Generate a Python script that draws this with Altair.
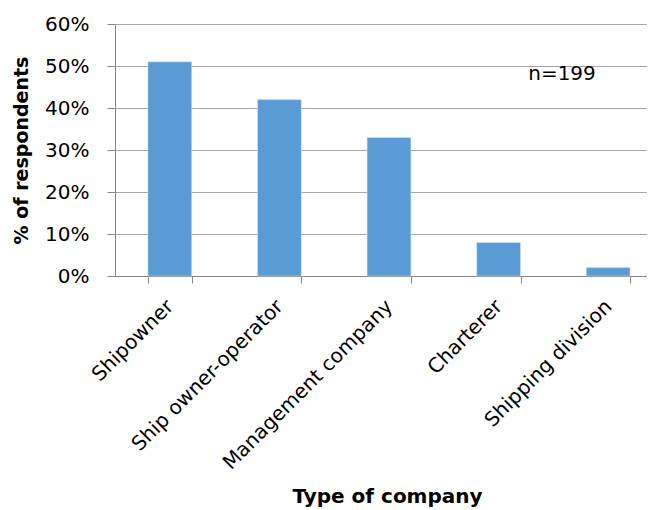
import altair as alt
import pandas as pd

categories = ["Shipowner", "Ship owner-operator", "Management company", "Charterer", "Shipping division"]
shares = [0.51, 0.42, 0.33, 0.08, 0.02]
y_ticks = [0, 0.1, 0.2, 0.3, 0.4, 0.5, 0.6]
note = "n=199"

df = pd.DataFrame({"company": categories, "share": shares})

FONT = "DejaVu Sans"

bars = alt.Chart(df).mark_bar(color="#5B9BD5", stroke="#DDEBF7", strokeWidth=0.5).encode(
    x=alt.X(
        "company:N",
        sort=categories,
        scale=alt.Scale(paddingInner=0.6, paddingOuter=0.3, range=[0, 548]),
        axis=alt.Axis(
            title="Type of company",
            labelAngle=315,
            labelAlign="right",
            labelBaseline="middle",
            labelFont=FONT,
            labelFontSize=20,
            labelColor="#000000",
            labelPadding=20,
            labelLimit=400,
            tickBand="extent",
            tickSize=7,
            tickColor="#868686",
            domainColor="#868686",
            titleFont=FONT,
            titleFontSize=20,
            titleFontWeight="bold",
            titleColor="#000000",
            titleBaseline="alphabetic",
            titleX=272,
            titleY=226,
            grid=False,
        ),
    ),
    y=alt.Y(
        "share:Q",
        scale=alt.Scale(domain=[0, 0.6]),
        axis=alt.Axis(
            title="% of respondents",
            format=".0%",
            values=y_ticks,
            labelFont=FONT,
            labelFontSize=20,
            labelColor="#000000",
            labelPadding=18,
            tickSize=8,
            tickColor="#868686",
            domainColor="#868686",
            gridColor="#a6a6a6",
            gridWidth=1,
            titleFont=FONT,
            titleFontSize=19,
            titleFontWeight="bold",
            titleColor="#000000",
            titleX=-84,
        ),
    ),
)

label = alt.Chart(pd.DataFrame({"t": [note]})).mark_text(
    font=FONT, fontSize=20, align="center", baseline="middle", color="#000000"
).encode(text="t:N", x=alt.value(447), y=alt.value(50))

chart = (
    alt.layer(bars, label)
    .properties(
        width=532,
        height=252,
        autosize=alt.AutoSizeParams(type="none"),
        padding={"left": 107, "top": 16, "right": 0, "bottom": 232},
    )
    .configure_view(stroke=None)
)

chart.save("out.html", embed_options={"renderer": "svg", "actions": False})
